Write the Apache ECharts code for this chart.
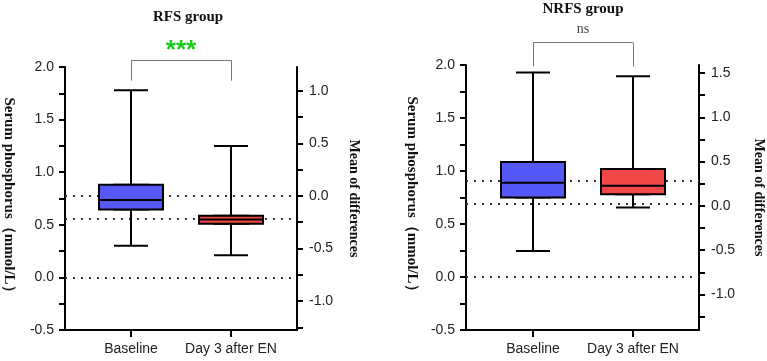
<!DOCTYPE html>
<html>
<head>
<meta charset="utf-8">
<script src="https://cdn.jsdelivr.net/npm/echarts@6/dist/echarts.min.js"></script>
<style>
  html, body { margin: 0; padding: 0; background: #fff; }
  #chart { width: 767px; height: 361px; }
</style>
</head>
<body>
<div id="chart"></div>
<script>
const categories = ['Baseline', 'Day 3 after EN']

// box values: [min, Q1, median, Q3, max]
const rfsBaseline = [0.30, 0.645, 0.735, 0.88, 1.78]
const rfsDay3 = [0.21, 0.51, 0.55, 0.585, 1.25]
const nrfsBaseline = [0.245, 0.75, 0.89, 1.085, 1.93]
const nrfsDay3 = [0.655, 0.78, 0.86, 1.02, 1.895]

// dotted reference lines (left axis units)
const rfsRefLines = [0.775, 0.56, 0]
const nrfsRefLines = [0.91, 0.685, 0]

// right axis "Mean of differences"
const rfsDiffRange = [-1.275, 1.225]
const nrfsDiffRange = [-1.40, 1.59]
const rfsDiffTicks = [-1.25, -1.0, -0.75, -0.5, -0.25, 0, 0.25, 0.5, 0.75, 1.0]
const nrfsDiffTicks = [-1.25, -1.0, -0.75, -0.5, -0.25, 0, 0.25, 0.5, 0.75, 1.0, 1.25, 1.5]
const rfsDiffLabels = [-1.0, -0.5, 0, 0.5, 1.0]
const nrfsDiffLabels = [-1.0, -0.5, 0, 0.5, 1.0, 1.5]

// significance brackets: [leg bottom, bracket top]
const rfsBracket = [1.87, 2.065]
const nrfsBracket = [1.985, 2.21]

const phosRange = [-0.5, 2.0]

const blue = '#5557f6'
const red = '#f34646'
const serif = "'Liberation Serif', 'Times New Roman', serif"
const sans = "'Liberation Sans', Arial, sans-serif"

const panels = [
  {
    title: 'RFS group', titleX: 188, titleY: 10,
    left: 65, top: 67, width: 232, height: 263,
    innerLeft: 81, innerWidth: 200, innerMax: 2.25,
    leftNameGap: 49, rightNameGap: 50,
    boxes: [rfsBaseline, rfsDay3],
    refLines: rfsRefLines,
    diffRange: rfsDiffRange, diffTicks: rfsDiffTicks, diffLabels: rfsDiffLabels,
    bracket: rfsBracket, signif: '***',
    signifStyle: { color: '#1cc81c', fontSize: 26, fontWeight: 'bold', fontFamily: sans, distance: -4 }
  },
  {
    title: 'NRFS group', titleX: 583, titleY: 2,
    left: 466, top: 65, width: 235, height: 265,
    innerLeft: 483, innerWidth: 200, innerMax: 2.4,
    leftNameGap: 47, rightNameGap: 53,
    boxes: [nrfsBaseline, nrfsDay3],
    refLines: nrfsRefLines,
    diffRange: nrfsDiffRange, diffTicks: nrfsDiffTicks, diffLabels: nrfsDiffLabels,
    bracket: nrfsBracket, signif: 'ns',
    signifStyle: { color: '#444', fontSize: 14, fontFamily: serif, distance: 6 }
  }
]

const axisLineStyle = { color: '#000', width: 2 }
const tickLabel = { fontSize: 14, color: '#222', fontFamily: sans }
const fmt = v => Number(v).toFixed(1)

const grid = []
const xAxis = []
const yAxis = []
const series = []
const title = []

panels.forEach((p) => {
  const pxPerUnit = p.height / (phosRange[1] - phosRange[0])
  const innerTop = p.top - (p.innerMax - phosRange[1]) * pxPerUnit
  const outerGrid = grid.length
  grid.push({ left: p.left, top: p.top, width: p.width, height: p.height })
  const innerGrid = grid.length
  grid.push({ left: p.innerLeft, top: innerTop, width: p.innerWidth, height: p.height + p.top - innerTop })

  title.push({
    text: p.title, left: p.titleX, top: p.titleY, textAlign: 'center', padding: 0,
    textStyle: { fontFamily: serif, fontSize: 15, fontWeight: 'bold', color: '#111' }
  })

  // outer frame: bottom line + two y axes
  const xOuter = xAxis.length
  xAxis.push({
    gridIndex: outerGrid, type: 'value', min: 0, max: 1,
    axisLine: { show: true, onZero: false, lineStyle: axisLineStyle },
    axisTick: { show: false }, axisLabel: { show: false }, splitLine: { show: false }
  })
  const xWhisker = xAxis.length
  xAxis.push({
    gridIndex: innerGrid, type: 'category', data: categories,
    axisLine: { show: false, onZero: false },
    axisTick: { show: true, alignWithLabel: true, length: 7, lineStyle: axisLineStyle },
    axisLabel: { ...tickLabel, margin: 12, interval: 0 }
  })
  const xBody = xAxis.length
  xAxis.push({ gridIndex: innerGrid, type: 'category', data: categories, show: false })

  const yLeft = yAxis.length
  yAxis.push({
    gridIndex: outerGrid, type: 'value', position: 'left',
    min: phosRange[0], max: phosRange[1], interval: 0.5,
    name: 'Serum phosphorus（mmol/L）', nameLocation: 'middle', nameRotate: -90, nameGap: p.leftNameGap,
    nameTextStyle: { fontFamily: serif, fontSize: 15, fontWeight: 'bold', color: '#111' },
    axisLine: { show: true, onZero: false, lineStyle: axisLineStyle },
    axisTick: { show: true, length: 6, lineStyle: axisLineStyle },
    minorTick: { show: true, splitNumber: 2, length: 6, lineStyle: axisLineStyle },
    axisLabel: { ...tickLabel, margin: 11, formatter: fmt },
    splitLine: { show: false }, minorSplitLine: { show: false }
  })
  yAxis.push({
    gridIndex: outerGrid, type: 'value', position: 'right',
    min: p.diffRange[0], max: p.diffRange[1],
    name: 'Mean of differences', nameLocation: 'middle', nameRotate: -90, nameGap: p.rightNameGap,
    nameTextStyle: { fontFamily: serif, fontSize: 14, fontWeight: 'bold', color: '#111' },
    axisLine: { show: true, onZero: false, lineStyle: axisLineStyle },
    axisTick: { show: true, length: 6, lineStyle: axisLineStyle, customValues: p.diffTicks },
    axisLabel: { ...tickLabel, margin: 12, formatter: fmt, customValues: p.diffLabels },
    splitLine: { show: false }
  })
  const yInner = yAxis.length
  yAxis.push({ gridIndex: innerGrid, type: 'value', min: phosRange[0], max: p.innerMax, show: false, splitLine: { show: false } })

  // dotted reference lines (behind the boxes)
  series.push({
    type: 'line', xAxisIndex: xOuter, yAxisIndex: yLeft, data: [], silent: true, z: 1,
    markLine: {
      silent: true, symbol: ['none', 'none'], label: { show: false }, animation: false,
      lineStyle: { type: [2, 6], width: 2, color: '#333' },
      emphasis: { disabled: true },
      data: p.refLines.map(v => ({ yAxis: v }))
    }
  })

  // whiskers with narrow caps
  series.push({
    type: 'boxplot', xAxisIndex: xWhisker, yAxisIndex: yInner, silent: true, z: 5,
    boxWidth: [34, 34],
    itemStyle: { color: 'transparent', borderColor: '#000', borderWidth: 2 },
    data: p.boxes
  })
  // boxes (whiskers collapsed onto the box)
  series.push({
    type: 'boxplot', xAxisIndex: xBody, yAxisIndex: yInner, silent: true, z: 6,
    boxWidth: [64, 64],
    data: p.boxes.map((b, k) => ({
      value: [b[1], b[1], b[2], b[3], b[3]],
      itemStyle: { color: k === 0 ? blue : red, borderColor: '#000', borderWidth: 2 }
    }))
  })

  // significance bracket
  const [legY, topY] = p.bracket
  series.push({
    type: 'line', xAxisIndex: xWhisker, yAxisIndex: yInner, data: [], silent: true,
    markLine: {
      silent: true, symbol: ['none', 'none'], animation: false,
      label: { show: false },
      lineStyle: { type: 'solid', width: 1, color: '#777' },
      emphasis: { disabled: true },
      data: [
        [{ coord: [0, legY] }, { coord: [0, topY] }],
        [{ coord: [0, topY], label: { show: true, position: 'middle', formatter: p.signif, ...p.signifStyle } }, { coord: [1, topY] }],
        [{ coord: [1, topY] }, { coord: [1, legY] }]
      ]
    }
  })
})

const chart = echarts.init(document.getElementById('chart'))
chart.setOption({
  animation: false,
  backgroundColor: '#fff',
  title,
  grid,
  xAxis,
  yAxis,
  series
})
</script>
</body>
</html>
